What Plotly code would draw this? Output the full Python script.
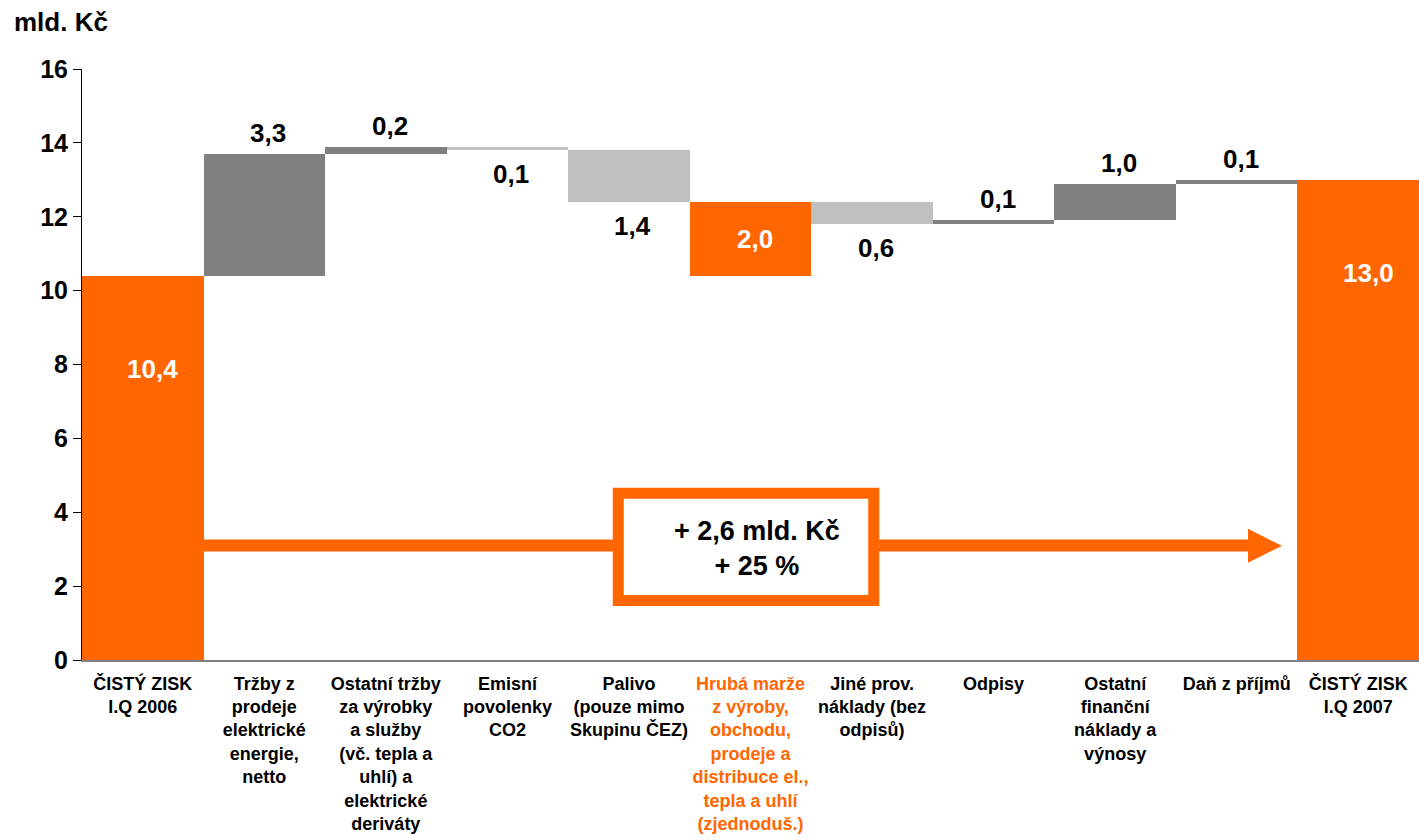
import plotly.graph_objects as go

categories = [
    "ČISTÝ ZISK<br>I.Q 2006",
    "Tržby z<br>prodeje<br>elektrické<br>energie,<br>netto",
    "Ostatní tržby<br>za výrobky<br>a služby<br>(vč. tepla a<br>uhlí) a<br>elektrické<br>deriváty",
    "Emisní<br>povolenky<br>CO2",
    "Palivo<br>(pouze mimo<br>Skupinu ČEZ)",
    "Hrubá marže<br>z výroby,<br>obchodu,<br>prodeje a<br>distribuce el.,<br>tepla a uhlí<br>(zjednoduš.)",
    "Jiné prov.<br>náklady (bez<br>odpisů)",
    "Odpisy",
    "Ostatní<br>finanční<br>náklady a<br>výnosy",
    "Daň z příjmů",
    "ČISTÝ ZISK<br>I.Q 2007",
]
starts = [0, 10.4, 13.7, 13.9, 13.8, 10.4, 12.4, 11.8, 11.9, 12.9, 0]
ends = [10.4, 13.7, 13.9, 13.8, 12.4, 12.4, 11.8, 11.9, 12.9, 13.0, 13.0]
value_labels = ["10,4", "3,3", "0,2", "0,1", "1,4", "2,0", "0,6", "0,1", "1,0", "0,1", "13,0"]
kinds = ["total", "up", "up", "down", "down", "total", "down", "up", "up", "up", "total"]
highlight = [False, False, False, False, False, True, False, False, False, False, False]
change_text = "+ 2,6 mld. Kč<br>+ 25 %"
y_ticks = [0, 2, 4, 6, 8, 10, 12, 14, 16]

ORANGE = "#FF6600"
DARK = "#808080"
LIGHT = "#C0C0C0"
color_map = {"total": ORANGE, "up": DARK, "down": LIGHT}
FONT = "Liberation Sans"

bases = [min(s, e) for s, e in zip(starts, ends)]
heights = [abs(e - s) for s, e in zip(starts, ends)]

fig = go.Figure()
fig.add_trace(go.Bar(
    x=categories, y=heights, base=bases,
    marker=dict(color=[color_map[k] for k in kinds], line=dict(width=0)),
    hoverinfo="skip", showlegend=False,
))

annotations = []
for i, (cat, s, e, lab, k) in enumerate(zip(categories, starts, ends, value_labels, kinds)):
    top = max(s, e)
    bot = min(s, e)
    if k == "total" and bot > 0:
        annotations.append(dict(x=cat, y=(top + bot) / 2, text=lab, showarrow=False,
                                font=dict(size=26, color="white", family=FONT, weight="bold"),
                                xshift=4))
    elif k == "total":
        annotations.append(dict(x=cat, y=top, yshift=-93, text=lab, showarrow=False,
                                font=dict(size=26, color="white", family=FONT, weight="bold"),
                                xshift=10))
    elif k == "up":
        annotations.append(dict(x=cat, y=top, yshift=21, text=lab, showarrow=False,
                                font=dict(size=26, color="black", family=FONT, weight="bold"),
                                xshift=4))
    else:
        annotations.append(dict(x=cat, y=bot, yshift=-24, text=lab, showarrow=False,
                                font=dict(size=26, color="black", family=FONT, weight="bold"),
                                xshift=4))

# axis unit title
annotations.append(dict(xref="paper", yref="paper", x=-0.0524, y=1.0795, xanchor="left",
                        yanchor="middle", text="mld. Kč", showarrow=False,
                        font=dict(size=26, color="black", family=FONT, weight="bold")))
# change box text
annotations.append(dict(xref="paper", yref="y", x=0.5049, y=3.02, text=change_text,
                        showarrow=False,
                        font=dict(size=27, color="black", family=FONT, weight="bold")))

shapes = [
    dict(type="line", xref="paper", yref="y", x0=1 / 11, x1=0.8735, y0=3.1, y1=3.1,
         line=dict(color=ORANGE, width=12), layer="above"),
    dict(type="path", xref="paper", yref="y",
         path="M 0.8721 3.55 L 0.8975 3.09 L 0.8721 2.63 Z",
         fillcolor=ORANGE, line=dict(color=ORANGE, width=0), layer="above"),
    dict(type="rect", xref="paper", yref="y", x0=0.4011, x1=0.5922, y0=1.611, y1=4.515,
         fillcolor="white", line=dict(color=ORANGE, width=11), layer="above"),
]

ticktext = [f'<span style="color:{ORANGE}">{c}</span>' if h else c
            for c, h in zip(categories, highlight)]

fig.update_layout(
    width=1419, height=840,
    margin=dict(l=82, r=0, t=69, b=180),
    plot_bgcolor="white", paper_bgcolor="white",
    bargap=0,
    annotations=annotations,
    shapes=shapes,
    xaxis=dict(
        type="category", range=[-0.5, 10.5],
        tickvals=categories, ticktext=ticktext, tickangle=0,
        tickfont=dict(size=18, color="black", family=FONT, weight="bold"),
        showline=True, linecolor=DARK, linewidth=2, showgrid=False, zeroline=False,
        ticks="", ticklabelstandoff=6,
    ),
    yaxis=dict(
        range=[0, 16], tickvals=y_ticks, ticktext=[str(v) for v in y_ticks],
        tickfont=dict(size=25, color="black", family=FONT, weight="bold"),
        showline=True, linecolor="black", linewidth=1, showgrid=False, zeroline=False,
        ticks="outside", ticklen=8, tickcolor="black", tickwidth=1,
    ),
)

# remove the page's default body margin so the figure fills the window exactly
fig.write_html(
    "out.html",
    config={"displayModeBar": False},
    post_script="document.body.style.margin='0';document.body.style.overflow='hidden';",
)
